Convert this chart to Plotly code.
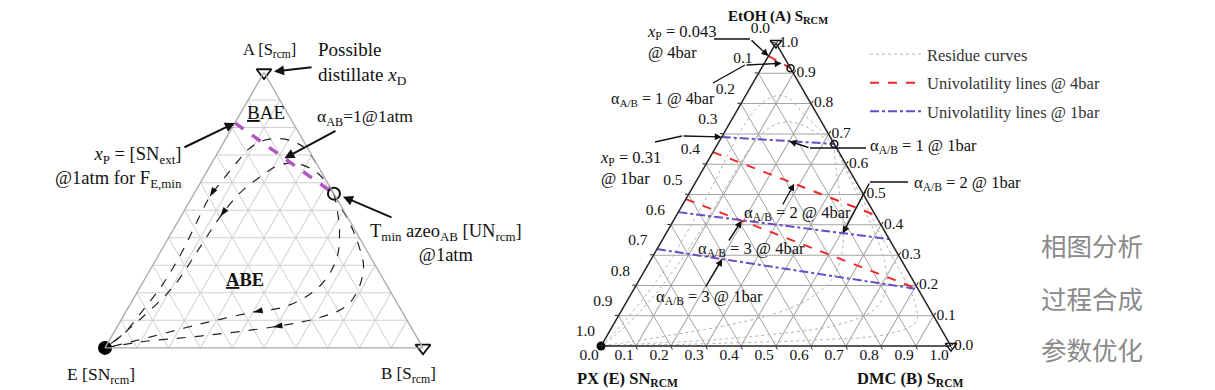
import math
import plotly.graph_objects as go

# page offset (browser body margin) and figure size
OX, OY = 8, 8
FIG_W, FIG_H = 1207, 382
S3 = math.sqrt(3) / 2
SERIF = "Liberation Serif"

# ---------------- data (mole fractions: A top, B bottom-right, E bottom-left) -------------
tick_vals = [round(i * 0.1, 1) for i in range(11)]
tick_text = [f"{v:.1f}" for v in tick_vals]

# left diagram: residue curves (A, B) from azeotrope AB to E
left_curve1_A = [0.56, 0.653, 0.726, 0.758, 0.755, 0.726, 0.675, 0.603, 0.549, 0.46, 0.347, 0.23, 0.13, 0.058, 0.015, 0.0]
left_curve1_B = [0.44, 0.355, 0.265, 0.187, 0.126, 0.093, 0.078, 0.064, 0.055, 0.06, 0.068, 0.066, 0.05, 0.035, 0.012, 0.0]
left_curve2_A = [0.56, 0.628, 0.661, 0.671, 0.657, 0.621, 0.563, 0.477, 0.368, 0.224, 0.116, 0.03, 0.0]
left_curve2_B = [0.44, 0.361, 0.298, 0.246, 0.206, 0.177, 0.143, 0.124, 0.116, 0.104, 0.064, 0.02, 0.0]
left_curve3_A = [0.56, 0.513, 0.419, 0.321, 0.224, 0.152, 0.13, 0.087, 0.04, 0.012, 0.0]
left_curve3_B = [0.44, 0.472, 0.528, 0.567, 0.563, 0.496, 0.401, 0.257, 0.124, 0.04, 0.0]
left_curve4_A = [0.56, 0.513, 0.44, 0.368, 0.296, 0.213, 0.152, 0.112, 0.076, 0.043, 0.022, 0.0]
left_curve4_B = [0.44, 0.485, 0.555, 0.615, 0.665, 0.69, 0.683, 0.625, 0.49, 0.278, 0.102, 0.0]
left_arrow_idx = [8, 7, 6, 8]
left_univol_A = [0.817, 0.56]
left_univol_B = [0.0, 0.44]
left_azeo = (0.56, 0.44)

# right diagram: residue curves (A, B)
res_curves = [
    ([0.667, 0.72, 0.77, 0.81, 0.828, 0.81, 0.76, 0.66, 0.52, 0.38, 0.25, 0.12, 0.04, 0.0],
     [0.333, 0.26, 0.19, 0.14, 0.10, 0.065, 0.047, 0.045, 0.055, 0.058, 0.055, 0.035, 0.015, 0.0]),
    ([0.667, 0.70, 0.73, 0.74, 0.72, 0.66, 0.56, 0.44, 0.32, 0.20, 0.10, 0.03, 0.0],
     [0.333, 0.27, 0.21, 0.16, 0.12, 0.10, 0.095, 0.095, 0.09, 0.075, 0.05, 0.02, 0.0]),
    ([0.667, 0.60, 0.52, 0.42, 0.32, 0.23, 0.16, 0.11, 0.07, 0.04, 0.015, 0.0],
     [0.333, 0.37, 0.42, 0.48, 0.53, 0.55, 0.52, 0.45, 0.33, 0.20, 0.08, 0.0]),
    ([0.667, 0.58, 0.48, 0.38, 0.28, 0.19, 0.12, 0.07, 0.04, 0.02, 0.008, 0.0],
     [0.333, 0.41, 0.50, 0.59, 0.67, 0.72, 0.72, 0.64, 0.48, 0.30, 0.12, 0.0]),
    ([0.667, 0.50, 0.30, 0.15, 0.08, 0.04, 0.02, 0.01, 0.003, 0.0],
     [0.333, 0.49, 0.68, 0.82, 0.86, 0.80, 0.60, 0.35, 0.12, 0.0]),
]
# univolatility lines (A, B) start/end
uni4_A = [[0.957, 0.917], [0.64, 0.432], [0.485, 0.188]]
uni4_B = [[0.0, 0.083], [0.0, 0.568], [0.0, 0.812]]
uni1_A = [[0.69, 0.667], [0.442, 0.353], [0.32, 0.188]]
uni1_B = [[0.0, 0.333], [0.0, 0.647], [0.0, 0.812]]
azeo_4bar = (0.917, 0.083)
azeo_1bar = (0.667, 0.333)

# ---------------- geometry helpers (screen pixels) ----------------
LEFT = dict(x0=105.0, y0=72.5, w=318.0)
RIGHT = dict(x0=601.0, y0=43.0, w=350.0)


def paper_xy(x, y):
    return (x - OX) / FIG_W, 1 - (y - OY) / FIG_H


def domain(g):
    h = g["w"] * S3
    x0, y1 = paper_xy(g["x0"], g["y0"])
    x1, y0 = paper_xy(g["x0"] + g["w"], g["y0"] + h)
    return dict(x=[x0, x1], y=[y0, y1])


def px(g, A, B):
    h = g["w"] * S3
    return g["x0"] + g["w"] * (B + A / 2), g["y0"] + h * (1 - A)


def E(A, B):
    return [max(0.0, 1 - a - b) for a, b in zip(A, B)]


fig = go.Figure()

# ---------------- left diagram ----------------
left_curves = [(left_curve1_A, left_curve1_B), (left_curve2_A, left_curve2_B),
               (left_curve3_A, left_curve3_B), (left_curve4_A, left_curve4_B)]
for (A, B), k in zip(left_curves, left_arrow_idx):
    fig.add_trace(go.Scatterternary(a=A, b=E(A, B), c=B, mode="lines", subplot="ternary",
                                    line=dict(color="#222", width=1.2, dash="dash", shape="spline"),
                                    showlegend=False, hoverinfo="skip"))
    x1, y1 = px(LEFT, A[k - 1], B[k - 1])
    x2, y2 = px(LEFT, A[k + 1], B[k + 1])
    ang = math.degrees(math.atan2(x2 - x1, -(y2 - y1)))
    fig.add_trace(go.Scatterternary(a=[A[k]], b=E([A[k]], [B[k]]), c=[B[k]], mode="markers",
                                    subplot="ternary", cliponaxis=False,
                                    marker=dict(symbol="arrow", size=10, angle=ang, color="#111"),
                                    showlegend=False, hoverinfo="skip"))

fig.add_trace(go.Scatterternary(a=left_univol_A, b=E(left_univol_A, left_univol_B), c=left_univol_B,
                                mode="lines", subplot="ternary",
                                line=dict(color="#b455c4", width=3.5, dash="dash"),
                                showlegend=False, hoverinfo="skip"))
fig.add_trace(go.Scatterternary(a=[1, 0], b=[0, 0], c=[0, 1], mode="markers", subplot="ternary",
                                cliponaxis=False,
                                marker=dict(symbol="triangle-down-open", size=13, color="#111",
                                            line=dict(width=1.8)),
                                showlegend=False, hoverinfo="skip"))
fig.add_trace(go.Scatterternary(a=[0], b=[1], c=[0], mode="markers", subplot="ternary",
                                cliponaxis=False, marker=dict(symbol="circle", size=14, color="#000"),
                                showlegend=False, hoverinfo="skip"))
fig.add_trace(go.Scatterternary(a=[left_azeo[0]], b=[0], c=[left_azeo[1]], mode="markers",
                                subplot="ternary", cliponaxis=False,
                                marker=dict(symbol="circle-open", size=12, color="#111",
                                            line=dict(width=2)),
                                showlegend=False, hoverinfo="skip"))

# ---------------- right diagram ----------------
for i, (A, B) in enumerate(res_curves):
    fig.add_trace(go.Scatterternary(a=A, b=E(A, B), c=B, mode="lines", subplot="ternary2",
                                    line=dict(color="#b4b4b4", width=1, dash="dot", shape="spline"),
                                    name="Residue curves", legendgroup="res", showlegend=(i == 0),
                                    hoverinfo="skip"))


def seg_join(As, Bs):
    a, b = [], []
    for A, B in zip(As, Bs):
        a += A + [None]
        b += B + [None]
    e = [None if (x is None) else max(0.0, 1 - x - y) for x, y in zip(a, b)]
    return a, e, b


a, e, c = seg_join(uni4_A, uni4_B)
fig.add_trace(go.Scatterternary(a=a, b=e, c=c, mode="lines", subplot="ternary2",
                                line=dict(color="#f02828", width=2, dash="dash"),
                                name="Univolatility lines @ 4bar", legendgroup="u4", hoverinfo="skip"))
a, e, c = seg_join(uni1_A, uni1_B)
fig.add_trace(go.Scatterternary(a=a, b=e, c=c, mode="lines", subplot="ternary2",
                                line=dict(color="#6b4cc6", width=2, dash="dashdot"),
                                name="Univolatility lines @ 1bar", legendgroup="u1", hoverinfo="skip"))
fig.add_trace(go.Scatterternary(a=[1, 0], b=[0, 0], c=[0, 1], mode="markers", subplot="ternary2",
                                cliponaxis=False,
                                marker=dict(symbol="triangle-down-open", size=10, color="#111",
                                            line=dict(width=1.5)),
                                showlegend=False, hoverinfo="skip"))
fig.add_trace(go.Scatterternary(a=[0], b=[1], c=[0], mode="markers", subplot="ternary2",
                                cliponaxis=False, marker=dict(symbol="circle", size=9, color="#000"),
                                showlegend=False, hoverinfo="skip"))
fig.add_trace(go.Scatterternary(a=[azeo_4bar[0], azeo_1bar[0]], b=[0, 0],
                                c=[azeo_4bar[1], azeo_1bar[1]], mode="markers", subplot="ternary2",
                                cliponaxis=False,
                                marker=dict(symbol="circle-open", size=7, color="#111",
                                            line=dict(width=1.5)),
                                showlegend=False, hoverinfo="skip"))

# tick labels of the right diagram (clockwise reading: E on left edge, B on bottom, A on right edge)
tick_font = dict(family=SERIF, size=15.5, color="#111")
zeros = [0.0] * len(tick_vals)
ones_minus = [round(1 - v, 3) for v in tick_vals]
for a_, b_, c_, pos, msize in [
    (ones_minus, tick_vals, zeros, "top left", 8),      # left edge: E fraction
    (zeros, ones_minus, tick_vals, "bottom left", 2),   # bottom edge: B fraction
    (tick_vals, zeros, ones_minus, "middle right", 3),  # right edge: A fraction
]:
    fig.add_trace(go.Scatterternary(a=a_, b=b_, c=c_, mode="markers+text", subplot="ternary2",
                                    text=tick_text, textposition=pos, textfont=tick_font,
                                    cliponaxis=False,
                                    marker=dict(size=msize, color="rgba(0,0,0,0)"),
                                    showlegend=False, hoverinfo="skip"))

# ---------------- axes ----------------
left_axis = dict(tickvals=tick_vals, showticklabels=False, ticks="", linecolor="#aaaaaa",
                 linewidth=1.3, gridcolor="#cfcfcf", gridwidth=1, showgrid=True, title=dict(text=""))
right_axis = dict(tickvals=tick_vals, showticklabels=False, ticks="outside", ticklen=3,
                  tickcolor="#222", linecolor="#222", linewidth=1.5, gridcolor="#a3a3a3",
                  gridwidth=1, showgrid=True, title=dict(text=""))

lx, ly = paper_xy(865, 37)
fig.update_layout(
    width=FIG_W, height=FIG_H, margin=dict(l=0, r=0, t=0, b=0),
    paper_bgcolor="white", plot_bgcolor="white",
    ternary=dict(domain=domain(LEFT), bgcolor="white", sum=1,
                 aaxis=left_axis, baxis=left_axis, caxis=left_axis),
    ternary2=dict(domain=domain(RIGHT), bgcolor="white", sum=1,
                  aaxis=right_axis, baxis=right_axis, caxis=right_axis),
    legend=dict(x=lx, y=ly, xanchor="left", yanchor="top", itemwidth=52,
                traceorder="grouped", tracegroupgap=4, bgcolor="rgba(0,0,0,0)",
                font=dict(family=SERIF, size=16.5, color="#333")),
)

# ---------------- annotations ----------------
ann = []


def text(x, y, s, size=16, anchor="center", align="left", color="#111", family=SERIF):
    px_, py_ = paper_xy(x, y)
    ann.append(dict(x=px_, y=py_, xref="paper", yref="paper", text=s, showarrow=False,
                    xanchor=anchor, yanchor="middle", align=align,
                    font=dict(family=family, size=size, color=color)))


def arrow(tip, tail, width=1.4, size=1.0):
    tx, ty = paper_xy(*tip)
    ann.append(dict(x=tx, y=ty, xref="paper", yref="paper", text="", showarrow=True,
                    ax=tail[0] - tip[0], ay=tail[1] - tip[1], arrowhead=2, arrowsize=size,
                    arrowwidth=width, arrowcolor="#111"))


shapes = []


def leader(points, width=1.4):
    pts = [paper_xy(x, y) for x, y in points]
    path = "M " + " L ".join(f"{x:.5f},{y:.5f}" for x, y in pts)
    shapes.append(dict(type="path", xref="paper", yref="paper", path=path,
                       line=dict(color="#111", width=width)))


UL = '<span style="text-decoration:underline">{}</span>'

# left diagram labels
text(269, 50, "A [S<sub>rcm</sub>]", 16.5)
text(101, 375, "E [SN<sub>rcm</sub>]", 17.5)
text(408, 375, "B [S<sub>rcm</sub>]", 17)
text(316, 64, "Possible<br>distillate <i>x</i><sub>D</sub>", 19, anchor="left")
text(266, 113, UL.format("B") + "AE", 19)
text(245, 280, "<b>" + UL.format("A") + "BE</b>", 18.5)
text(315, 117, "α<sub>AB</sub>=1@1atm", 17.5, anchor="left")
text(184, 167, "<i>x</i><sub>P</sub> = [SN<sub>ext</sub>]<br>@1atm for F<sub>E,min</sub>", 18.5,
     anchor="right", align="right")
text(446, 243, "T<sub>min</sub> azeo<sub>AB</sub> [UN<sub>rcm</sub>]<br>@1atm", 18.5, align="center")

vx, vy = px(LEFT, 1, 0)
arrow((vx + 10, vy - 1), (313, 67), width=2)
mA = (left_univol_A[0] + left_univol_A[1]) / 2
mB = (left_univol_B[0] + left_univol_B[1]) / 2
arrow(px(LEFT, mA, mB), (337, 130), width=2)
sx, sy = px(LEFT, left_univol_A[0], left_univol_B[0])
arrow((sx, sy), (183, 148), width=2)
zx, zy = px(LEFT, *left_azeo)
arrow((zx + 9, zy + 3), (393, 218), width=2)

# right diagram labels
text(778, 17, "<b>EtOH (A) S<sub>RCM</sub></b>", 15)
text(627, 379, "<b>PX (E) SN<sub>RCM</sub></b>", 16.5)
text(910, 379, "<b>DMC (B) S<sub>RCM</sub></b>", 16.5)
text(645, 42, "<i>x</i><sub>P</sub> = 0.043<br>@ 4bar", 16.5, anchor="left")
text(609, 99, "α<sub>A/B</sub> = 1 @ 4bar", 16, anchor="left")
text(598, 168, "<i>x</i><sub>P</sub> = 0.31<br>@ 1bar", 16.5, anchor="left")
text(868, 146, "α<sub>A/B</sub> = 1 @ 1bar", 16.5, anchor="left")
text(912, 183, "α<sub>A/B</sub> = 2 @ 1bar", 16.5, anchor="left")
text(742, 213, "α<sub>A/B</sub> = 2 @ 4bar", 16.5, anchor="left")
text(696, 249, "α<sub>A/B</sub> = 3 @ 4bar", 16.5, anchor="left")
text(654, 297, "α<sub>A/B</sub> = 3 @ 1bar", 16.5, anchor="left")


def on_seg(As, Bs, t):
    return As[0] + t * (As[1] - As[0]), Bs[0] + t * (Bs[1] - Bs[0])


leader([(714, 39), (750, 39)])
arrow(px(RIGHT, uni4_A[0][0], uni4_B[0][0]), (750, 39))
leader([(713, 83), (745, 65)])
arrow(px(RIGHT, *on_seg(uni4_A[0], uni4_B[0], 0.6)), (745, 65))
leader([(655, 142), (682, 136)])
arrow(px(RIGHT, uni1_A[0][0], uni1_B[0][0]), (682, 136))
leader([(866, 148), (810, 148)])
arrow(px(RIGHT, *on_seg(uni1_A[0], uni1_B[0], 0.6)), (810, 148))
leader([(908, 182), (870, 182)])
arrow(px(RIGHT, *on_seg(uni1_A[1], uni1_B[1], 0.78)), (870, 182))
arrow(px(RIGHT, *on_seg(uni4_A[1], uni4_B[1], 0.5)), (782, 206))
arrow(px(RIGHT, *on_seg(uni4_A[2], uni4_B[2], 0.24)), (728, 242))
arrow(px(RIGHT, *on_seg(uni1_A[2], uni1_B[2], 0.25)), (705, 288))

# side menu text
CJK = "Noto Sans CJK SC"
text(1092, 245, "相图分析", 25.5, color="#8a8a8a", family=CJK)
text(1092, 297, "过程合成", 25.5, color="#8a8a8a", family=CJK)
text(1092, 348, "参数优化", 25.5, color="#8a8a8a", family=CJK)

fig.update_layout(annotations=ann, shapes=shapes)
fig.write_html("out.html")
